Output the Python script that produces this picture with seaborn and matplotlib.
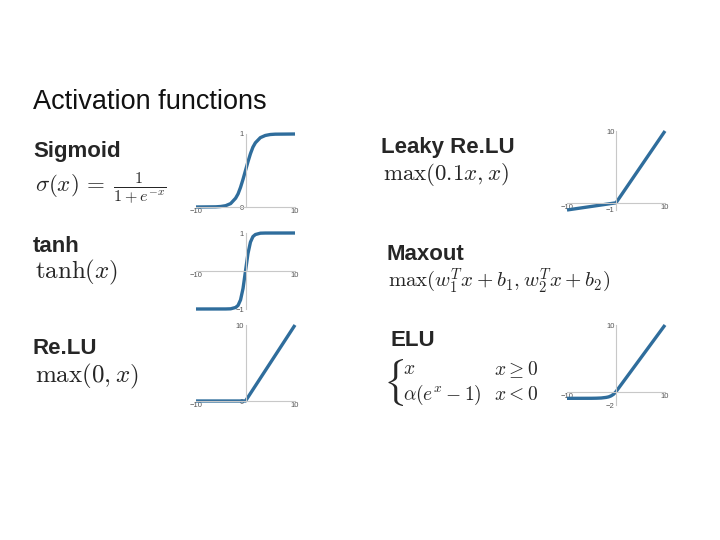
import matplotlib
matplotlib.use("Agg")
import matplotlib.pyplot as plt
import seaborn as sns

# curve samples
sig_x = [-10, -6, -5, -4, -3, -2, -1.5, -1, -0.5, 0, 0.5, 1, 1.5, 2, 3, 4, 5, 6, 10]
sig_y = [0.0, 0.0025, 0.007, 0.018, 0.047, 0.12, 0.18, 0.27, 0.38, 0.5, 0.62, 0.73, 0.82, 0.88, 0.95, 0.98, 0.993, 0.9975, 1.0]

tanh_x = [-10, -4, -3, -2, -1.5, -1, -0.5, 0, 0.5, 1, 1.5, 2, 3, 4, 10]
tanh_y = [-1.0, -0.999, -0.995, -0.96, -0.905, -0.76, -0.46, 0.0, 0.46, 0.76, 0.905, 0.96, 0.995, 0.999, 1.0]

relu_x = [-10, 0, 10]
relu_y = [0, 0, 10]

leaky_x = [-10, 0, 10]
leaky_y = [-1, 0, 10]

elu_x = [-10, -5, -4, -3, -2, -1.5, -1, -0.5, 0, 10]
elu_y = [-1.0, -0.993, -0.98, -0.95, -0.86, -0.78, -0.63, -0.39, 0.0, 10]

names = ["Sigmoid", "tanh", "Re.LU", "Leaky Re.LU", "Maxout", "ELU"]

sns.set_style("white")
plt.rcParams["font.family"] = ["Liberation Sans", "DejaVu Sans"]
plt.rcParams["mathtext.fontset"] = "cm"

W, H = 720, 540
fig = plt.figure(figsize=(7.2, 5.4), dpi=100)
blue = "#2f6d9c"
grey = "#c8c8c8"


def px(x, y):
    return x / W, 1 - y / H


def small_plot(x0, x1, ytop, ybot, xs, ys, ylim, yticks, ylabels):
    l, b = px(x0, ybot)
    ax = fig.add_axes([l, b, (x1 - x0) / W, (ybot - ytop) / H])
    sns.lineplot(x=xs, y=ys, ax=ax, color=blue, linewidth=2.4)
    for ln in ax.lines:
        ln.set_clip_on(False)
        ln.set_solid_capstyle("butt")
    ax.set_xlim(-10, 10)
    ax.set_ylim(*ylim)
    ax.patch.set_alpha(0)
    ax.spines["top"].set_visible(False)
    ax.spines["right"].set_visible(False)
    ax.spines["left"].set_position(("data", 0))
    ax.spines["bottom"].set_position(("data", 0))
    for s in ("left", "bottom"):
        ax.spines[s].set_color(grey)
        ax.spines[s].set_linewidth(0.8)
    ax.set_xticks([-10, 10])
    ax.set_xticklabels(["\u221210", "10"])
    ax.set_yticks(yticks)
    ax.set_yticklabels(ylabels)
    ax.tick_params(length=0, labelsize=5.5, labelcolor="#555555", pad=1)
    return ax


small_plot(196, 295, 134, 207, sig_x, sig_y, (0, 1), [0, 1], ["0", "1"])
small_plot(196, 295, 233, 309, tanh_x, tanh_y, (-1, 1), [-1, 1], ["\u22121", "1"])
small_plot(196, 295, 325, 401, relu_x, relu_y, (0, 10), [0, 10], ["0", "10"])
small_plot(567, 665, 131, 210, leaky_x, leaky_y, (-1, 10), [-1, 10], ["\u22121", "10"])
small_plot(567, 665, 325, 405, elu_x, elu_y, (-2, 10), [-2, 10], ["\u22122", "10"])


def t(x, y, s, **kw):
    fig.text(*px(x, y), s, **kw)


t(33, 109, "Activation functions", fontsize=19.5, va="baseline", color="#111111")

lx = [33, 33, 33, 381, 387, 391]
ly = [157, 252, 354, 153, 260, 346]
for n, x, y in zip(names, lx, ly):
    t(x, y, n, fontsize=16, fontweight="bold", va="baseline")

t(35, 188, r"$\sigma(x)\,=\;\frac{1}{1+e^{-x}}$", fontsize=16.5, va="center")
t(35, 272, r"$\tanh(x)$", fontsize=18, va="center")
t(35, 376, r"$\max(0, x)$", fontsize=18, va="center")
t(383, 175, r"$\max(0.1x, x)$", fontsize=16.5, va="center")
t(388, 281, r"$\max(w_1^Tx+b_1, w_2^Tx+b_2)$", fontsize=15, va="center")

# ELU piecewise definition
t(383, 383, r"$\{$", fontsize=29, va="center")
t(403, 370, r"$x$", fontsize=14, va="center")
t(494, 370, r"$x \geq 0$", fontsize=14, va="center")
t(403, 395, r"$\alpha(e^x - 1)$", fontsize=14, va="center")
t(494, 395, r"$x < 0$", fontsize=14, va="center")

fig.savefig("out.png", dpi=100)
